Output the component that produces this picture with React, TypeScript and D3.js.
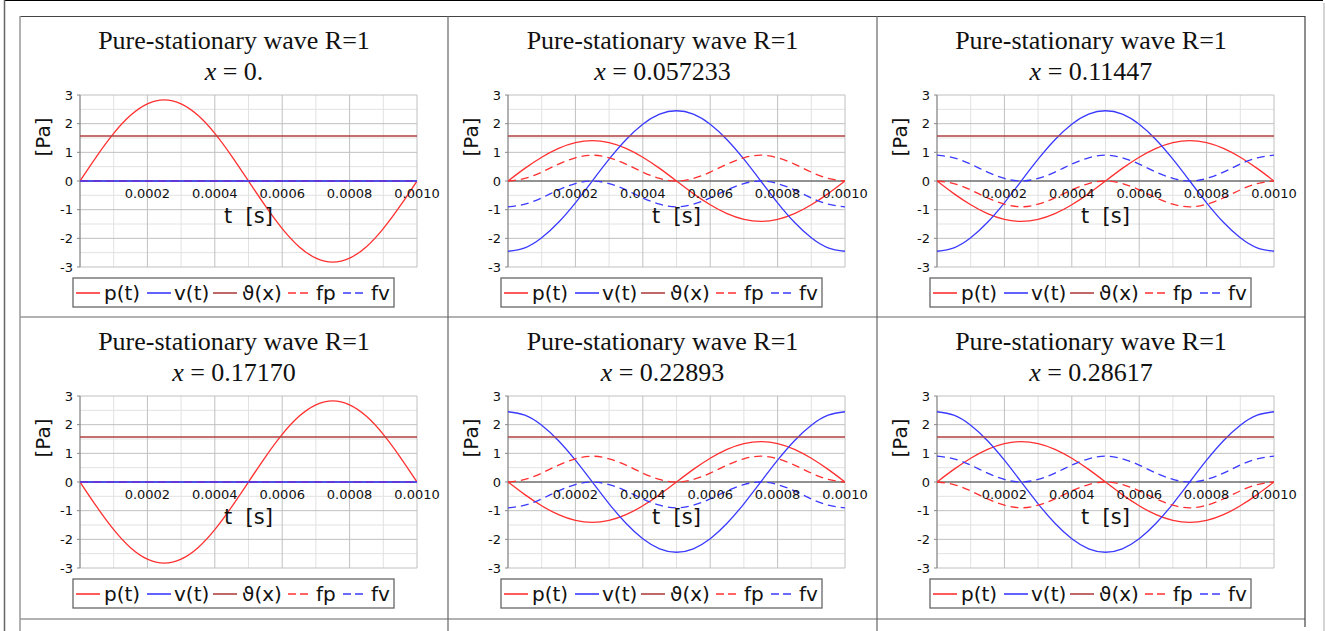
import React from 'react';
import * as d3 from 'd3';

// sample instants [s]
const tSamples = [
  0, 0.00005, 0.0001, 0.00015, 0.0002, 0.00025, 0.0003, 0.00035, 0.0004, 0.00045, 0.0005,
  0.00055, 0.0006, 0.00065, 0.0007, 0.00075, 0.0008, 0.00085, 0.0009, 0.00095, 0.001,
];

const positions = ['0.', '0.057233', '0.11447', '0.17170', '0.22893', '0.28617'];

// p(t) per panel
const pressure = [
  [0, 0.87, 1.66, 2.29, 2.69, 2.83, 2.69, 2.29, 1.66, 0.87, 0, -0.87, -1.66, -2.29, -2.69, -2.83, -2.69, -2.29, -1.66, -0.87, 0],
  [0, 0.44, 0.83, 1.14, 1.34, 1.41, 1.34, 1.14, 0.83, 0.44, 0, -0.44, -0.83, -1.14, -1.34, -1.41, -1.34, -1.14, -0.83, -0.44, 0],
  [0, -0.44, -0.83, -1.14, -1.34, -1.41, -1.34, -1.14, -0.83, -0.44, 0, 0.44, 0.83, 1.14, 1.34, 1.41, 1.34, 1.14, 0.83, 0.44, 0],
  [0, -0.87, -1.66, -2.29, -2.69, -2.83, -2.69, -2.29, -1.66, -0.87, 0, 0.87, 1.66, 2.29, 2.69, 2.83, 2.69, 2.29, 1.66, 0.87, 0],
  [0, -0.44, -0.83, -1.14, -1.34, -1.41, -1.34, -1.14, -0.83, -0.44, 0, 0.44, 0.83, 1.14, 1.34, 1.41, 1.34, 1.14, 0.83, 0.44, 0],
  [0, 0.44, 0.83, 1.14, 1.34, 1.41, 1.34, 1.14, 0.83, 0.44, 0, -0.44, -0.83, -1.14, -1.34, -1.41, -1.34, -1.14, -0.83, -0.44, 0],
];

// v(t) per panel
const velocity = [
  [0, 0, 0, 0, 0, 0, 0, 0, 0, 0, 0, 0, 0, 0, 0, 0, 0, 0, 0, 0, 0],
  [-2.45, -2.33, -1.98, -1.44, -0.76, 0, 0.76, 1.44, 1.98, 2.33, 2.45, 2.33, 1.98, 1.44, 0.76, 0, -0.76, -1.44, -1.98, -2.33, -2.45],
  [-2.45, -2.33, -1.98, -1.44, -0.76, 0, 0.76, 1.44, 1.98, 2.33, 2.45, 2.33, 1.98, 1.44, 0.76, 0, -0.76, -1.44, -1.98, -2.33, -2.45],
  [0, 0, 0, 0, 0, 0, 0, 0, 0, 0, 0, 0, 0, 0, 0, 0, 0, 0, 0, 0, 0],
  [2.45, 2.33, 1.98, 1.44, 0.76, 0, -0.76, -1.44, -1.98, -2.33, -2.45, -2.33, -1.98, -1.44, -0.76, 0, 0.76, 1.44, 1.98, 2.33, 2.45],
  [2.45, 2.33, 1.98, 1.44, 0.76, 0, -0.76, -1.44, -1.98, -2.33, -2.45, -2.33, -1.98, -1.44, -0.76, 0, 0.76, 1.44, 1.98, 2.33, 2.45],
];

// fp per panel
const fpSeries = [
  [0, 0, 0, 0, 0, 0, 0, 0, 0, 0, 0, 0, 0, 0, 0, 0, 0, 0, 0, 0, 0],
  [0, 0.09, 0.31, 0.59, 0.81, 0.9, 0.81, 0.59, 0.31, 0.09, 0, 0.09, 0.31, 0.59, 0.81, 0.9, 0.81, 0.59, 0.31, 0.09, 0],
  [0, -0.09, -0.31, -0.59, -0.81, -0.9, -0.81, -0.59, -0.31, -0.09, 0, -0.09, -0.31, -0.59, -0.81, -0.9, -0.81, -0.59, -0.31, -0.09, 0],
  [0, 0, 0, 0, 0, 0, 0, 0, 0, 0, 0, 0, 0, 0, 0, 0, 0, 0, 0, 0, 0],
  [0, 0.09, 0.31, 0.59, 0.81, 0.9, 0.81, 0.59, 0.31, 0.09, 0, 0.09, 0.31, 0.59, 0.81, 0.9, 0.81, 0.59, 0.31, 0.09, 0],
  [0, -0.09, -0.31, -0.59, -0.81, -0.9, -0.81, -0.59, -0.31, -0.09, 0, -0.09, -0.31, -0.59, -0.81, -0.9, -0.81, -0.59, -0.31, -0.09, 0],
];

// fv per panel
const fvSeries = [
  [0, 0, 0, 0, 0, 0, 0, 0, 0, 0, 0, 0, 0, 0, 0, 0, 0, 0, 0, 0, 0],
  [-0.9, -0.81, -0.59, -0.31, -0.09, 0, -0.09, -0.31, -0.59, -0.81, -0.9, -0.81, -0.59, -0.31, -0.09, 0, -0.09, -0.31, -0.59, -0.81, -0.9],
  [0.9, 0.81, 0.59, 0.31, 0.09, 0, 0.09, 0.31, 0.59, 0.81, 0.9, 0.81, 0.59, 0.31, 0.09, 0, 0.09, 0.31, 0.59, 0.81, 0.9],
  [0, 0, 0, 0, 0, 0, 0, 0, 0, 0, 0, 0, 0, 0, 0, 0, 0, 0, 0, 0, 0],
  [-0.9, -0.81, -0.59, -0.31, -0.09, 0, -0.09, -0.31, -0.59, -0.81, -0.9, -0.81, -0.59, -0.31, -0.09, 0, -0.09, -0.31, -0.59, -0.81, -0.9],
  [0.9, 0.81, 0.59, 0.31, 0.09, 0, 0.09, 0.31, 0.59, 0.81, 0.9, 0.81, 0.59, 0.31, 0.09, 0, 0.09, 0.31, 0.59, 0.81, 0.9],
];

const thetaLevel = 1.57;

const xTicks = [0.0002, 0.0004, 0.0006, 0.0008, 0.001];
const xTickLabels = ['0.0002', '0.0004', '0.0006', '0.0008', '0.0010'];
const yTicks = [-3, -2, -1, 0, 1, 2, 3];
const legendLabels = ['p(t)', 'v(t)', 'ϑ(x)', 'fp', 'fv'];

const RED = '#ff3030';
const BLUE = '#3a3aff';
const BROWN = '#b04040';
const SANS = '"DejaVu Sans", Verdana, sans-serif';
const SERIF = '"Liberation Serif", "Times New Roman", serif';

const colEdges = [20, 448, 877, 1305];
const rowEdges = [16, 317, 619];

// legend layout, offsets from the box's left edge
const legendLineX = [3, 74, 140, 215, 270];
const legendTextX = [31, 101, 169, 243, 298];

function Panel({ index, cx, cy, cw }: { index: number; cx: number; cy: number; cw: number }) {
  const x = d3.scaleLinear().domain([0, 0.001]).range([cx + 60, cx + 397]);
  const y = d3.scaleLinear().domain([-3, 3]).range([cy + 251, cy + 79]);
  const line = d3
    .line<number>()
    .x((_, i) => x(tSamples[i]))
    .y((d) => y(d))
    .curve(d3.curveNatural);

  const series = [
    { values: pressure[index], color: RED, dash: undefined },
    { values: velocity[index], color: BLUE, dash: undefined },
    { values: tSamples.map(() => thetaLevel), color: BROWN, dash: undefined },
    { values: fpSeries[index], color: RED, dash: '8,5' },
    { values: fvSeries[index], color: BLUE, dash: '8,5' },
  ];

  const minorX = d3.range(0.0001, 0.001, 0.0002);
  const minorY = d3.range(-2.5, 3, 1);
  const [x0, x1] = x.range();
  const [yb, yt] = y.range();
  const clipId = `clip-${index}`;
  const lgX = cx + 53;
  const lgY = cy + 262;

  return (
    <g>
      <text x={cx + cw / 2} y={cy + 33} textAnchor="middle" fontFamily={SERIF} fontSize={26} fill="#111">
        Pure-stationary wave R=1
      </text>
      <text x={cx + cw / 2} y={cy + 64} textAnchor="middle" fontFamily={SERIF} fontSize={26} fill="#111">
        <tspan fontStyle="italic">x</tspan> = {positions[index]}
      </text>

      <clipPath id={clipId}>
        <rect x={x0} y={yt - 1} width={x1 - x0} height={yb - yt + 2} />
      </clipPath>

      {/* grid */}
      {minorX.map((t) => (
        <line key={'mx' + t} x1={x(t)} x2={x(t)} y1={yt} y2={yb} stroke="#e2e2e2" />
      ))}
      {minorY.map((v) => (
        <line key={'my' + v} x1={x0} x2={x1} y1={y(v)} y2={y(v)} stroke="#e2e2e2" />
      ))}
      {xTicks.map((t) => (
        <line key={'gx' + t} x1={x(t)} x2={x(t)} y1={yt} y2={yb} stroke="#c0c0c0" />
      ))}
      {yTicks.map((v) => (
        <line key={'gy' + v} x1={x0} x2={x1} y1={y(v)} y2={y(v)} stroke="#c0c0c0" />
      ))}

      {/* axes */}
      <line x1={x0} x2={x0} y1={yt} y2={yb} stroke="#888" strokeWidth={1.3} />
      {yTicks.map((v) => (
        <line key={'ty' + v} x1={x0 - 3} x2={x0} y1={y(v)} y2={y(v)} stroke="#888" />
      ))}
      <line x1={x0} x2={x1} y1={y(0)} y2={y(0)} stroke="#444" strokeWidth={1.2} />

      {yTicks.map((v) => (
        <text key={'ly' + v} x={x0 - 7} y={y(v)} dy="0.35em" textAnchor="end" fontFamily={SANS} fontSize={13} fill="#111">
          {v < 0 ? '-' + Math.abs(v) : String(v)}
        </text>
      ))}

      {/* series */}
      <g clipPath={`url(#${clipId})`}>
        {series.map((s, i) => (
          <path key={i} d={line(s.values) || ''} fill="none" stroke={s.color} strokeWidth={1.3} strokeDasharray={s.dash} />
        ))}
      </g>

      {xTicks.map((t, i) => (
        <text key={'lx' + t} x={x(t)} y={y(0) + 17} textAnchor="middle" fontFamily={SANS} fontSize={13} fill="#111">
          {xTickLabels[i]}
        </text>
      ))}

      <text x={(x0 + x1) / 2} y={cy + 207} textAnchor="middle" fontFamily={SANS} fontSize={21} fill="#111" style={{ whiteSpace: 'pre' }}>
        {'t  [s]'}
      </text>
      <text
        transform={`translate(${cx + 23},${cy + 121}) rotate(-90)`}
        textAnchor="middle"
        dy="0.35em"
        fontFamily={SANS}
        fontSize={20}
        fill="#111"
      >
        [Pa]
      </text>

      {/* legend */}
      <rect x={lgX} y={lgY} width={321} height={29} fill="#fff" stroke="#666" strokeWidth={1.3} />
      {legendLabels.map((lab, i) => (
        <g key={lab}>
          <line
            x1={lgX + legendLineX[i]}
            x2={lgX + legendLineX[i] + 24}
            y1={lgY + 15}
            y2={lgY + 15}
            stroke={series[i].color}
            strokeWidth={1.6}
            strokeDasharray={series[i].dash ? '8,4' : undefined}
          />
          <text x={lgX + legendTextX[i]} y={lgY + 22} fontFamily={SANS} fontSize={20} fill="#111">
            {lab}
          </text>
        </g>
      ))}
    </g>
  );
}

export default function App() {
  const W = 1325;
  const H = 631;
  const panels = [0, 1, 2, 3, 4, 5];
  return (
    <svg width={W} height={H} style={{ position: 'absolute', left: 0, top: 0, background: '#fff' }}>
      <rect width={W} height={H} fill="#fff" />
      {/* outer frame */}
      <line x1={5} x2={1323} y1={0.5} y2={0.5} stroke="#000" />
      <line x1={4.5} x2={4.5} y1={0} y2={H} stroke="#666" strokeWidth={1.5} />
      <line x1={1324} x2={1324} y1={3} y2={H} stroke="#aaa" />

      {/* table */}
      <line x1={20} x2={1305} y1={16.5} y2={16.5} stroke="#444" />
      {rowEdges.slice(1).map((r) => (
        <line key={'r' + r} x1={20} x2={1305} y1={r} y2={r} stroke="#666" strokeWidth={1.2} />
      ))}
      <line x1={20} x2={20} y1={16} y2={H} stroke="#999" strokeWidth={1.5} />
      {colEdges.slice(1, 3).map((c) => (
        <line key={'c' + c} x1={c} x2={c} y1={16} y2={H} stroke="#666" strokeWidth={1.2} />
      ))}
      <line x1={1305} x2={1305} y1={16} y2={627} stroke="#444" strokeWidth={1.2} />

      {panels.map((i) => {
        const col = i % 3;
        const row = Math.floor(i / 3);
        return (
          <Panel
            key={i}
            index={i}
            cx={colEdges[col]}
            cy={rowEdges[row]}
            cw={colEdges[col + 1] - colEdges[col]}
          />
        );
      })}
    </svg>
  );
}
